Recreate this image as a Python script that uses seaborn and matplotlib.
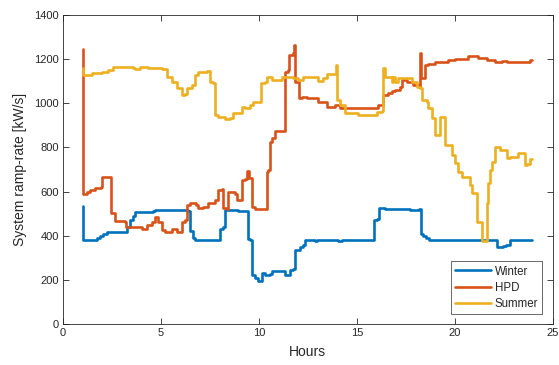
import numpy as np
import pandas as pd
import matplotlib
matplotlib.use("Agg")
import matplotlib.pyplot as plt
import seaborn as sns

# Winter ramp-rate profile (hours, kW/s)
winter_h = [1.00, 1.01, 1.63, 1.72, 1.89, 2.06, 2.23, 3.16, 3.25, 3.42, 3.59, 3.67,
            4.61, 4.69, 5.97, 6.39, 6.48, 6.65, 6.73, 7.92, 8.01, 8.18, 8.27, 8.78,
            8.95, 9.34, 9.42, 9.54, 9.63, 9.80, 9.93, 10.05, 10.14, 10.31, 10.56,
            10.65, 11.16, 11.33, 11.50, 11.58, 11.75, 11.84, 12.09, 12.26, 12.35,
            12.76, 12.86, 12.94, 13.96, 14.05, 14.22, 15.75, 15.88, 16.00, 16.12,
            16.43, 17.70, 18.18, 18.27, 18.38, 18.52, 18.69, 22.09, 22.16, 22.46,
            22.63, 22.81, 23.96]
winter_v = [535, 380, 380, 390, 400, 410, 418, 418, 440, 470, 490, 508,
            510, 518, 515, 512, 420, 390, 380, 380, 430, 440, 515, 515,
            510, 510, 385, 380, 220, 210, 193, 195, 230, 222, 225,
            240, 238, 222, 222, 245, 250, 335, 350, 360, 380,
            380, 375, 380, 380, 375, 380, 380, 470, 475, 525,
            520, 518, 520, 410, 400, 390, 380, 380, 350, 352,
            360, 380, 380]

# HPD ramp-rate profile
hpd_h = [1.00, 1.02, 1.21, 1.38, 1.63, 1.92, 2.01, 2.36, 2.45, 2.65, 3.16, 3.21,
         3.93, 4.01, 4.27, 4.52, 4.69, 4.86, 5.03, 5.20, 5.46, 5.55, 5.71, 5.80,
         5.97, 6.06, 6.22, 6.31, 6.48, 6.79, 6.90, 7.16, 7.42, 7.76, 7.92, 8.10,
         8.18, 8.35, 8.43, 8.52, 8.78, 8.86, 9.03, 9.12, 9.29, 9.40, 9.49, 9.63,
         9.80, 10.31, 10.39, 10.47, 10.56, 10.68, 10.82, 11.24, 11.33, 11.46,
         11.53, 11.75, 11.80, 11.85, 11.97, 12.04, 12.18, 12.35, 12.43, 12.94,
         13.03, 13.37, 13.45, 13.79, 13.88, 14.05, 14.13, 16.00, 16.09, 16.26,
         16.34, 16.60, 16.77, 16.94, 17.19, 17.28, 17.54, 17.87, 18.18, 18.21,
         18.27, 18.38, 18.47, 18.64, 18.98, 19.32, 19.66, 20.00, 20.60, 20.68,
         21.10, 21.19, 21.62, 22.04, 22.38, 22.64, 23.74, 23.83, 23.96]
hpd_v = [1245, 590, 597, 605, 615, 620, 665, 668, 505, 465, 460, 440,
         440, 432, 450, 460, 486, 460, 427, 417, 417, 430, 430, 417,
         417, 460, 470, 539, 547, 540, 525, 532, 547, 560, 607, 610,
         525, 520, 600, 597, 590, 562, 562, 652, 655, 695, 660, 531,
         521, 521, 690, 700, 826, 841, 874, 874, 1143, 1150,
         1219, 1226, 1262, 1098, 1098, 1022, 1030, 1030, 1022, 1022,
         1007, 1007, 985, 985, 992, 992, 977, 977, 992, 992,
         1038, 1045, 1055, 1060, 1075, 1105, 1097, 1082, 1075, 1226,
         1113, 1113, 1173, 1180, 1185, 1188, 1196, 1200, 1200, 1215,
         1215, 1205, 1196, 1188, 1192, 1188, 1188, 1194, 1194]

# Summer ramp-rate profile
summer_h = [1.00, 1.02, 1.38, 1.46, 1.89, 1.97, 2.23, 2.31, 2.57, 3.59, 3.67,
            3.93, 4.35, 5.03, 5.26, 5.32, 5.55, 5.80, 6.09, 6.22, 6.31, 6.56,
            6.73, 6.90, 7.33, 7.45, 7.50, 7.67, 7.76, 7.92, 8.27, 8.52, 8.69,
            9.03, 9.12, 9.29, 9.54, 9.71, 10.05, 10.10, 10.31, 10.39, 10.65,
            11.16, 11.75, 12.01, 12.26, 12.94, 13.03, 13.28, 13.45, 13.88,
            13.93, 13.99, 14.13, 14.39, 15.07, 16.00, 16.26, 16.31, 16.43,
            16.77, 16.85, 16.94, 17.11, 17.70, 17.79, 18.05, 18.21, 18.30,
            18.56, 18.64, 18.81, 18.98, 19.15, 19.23, 19.37, 19.49, 19.74,
            19.83, 20.00, 20.17, 20.34, 20.68, 20.77, 20.85, 21.02, 21.11,
            21.28, 21.36, 21.53, 21.62, 21.70, 21.79, 21.87, 22.04, 22.21,
            22.30, 22.55, 22.64, 22.81, 23.15, 23.23, 23.49, 23.57, 23.66,
            23.83, 23.96]
summer_v = [1158, 1128, 1128, 1136, 1136, 1143, 1143, 1153, 1163, 1160, 1155,
            1163, 1158, 1155, 1155, 1121, 1098, 1068, 1038, 1040, 1068, 1083,
            1130, 1143, 1148, 1148, 1098, 1090, 947, 940, 929, 932, 955,
            955, 985, 977, 992, 1007, 1007, 1090, 1098, 1117, 1107,
            1121, 1113, 1107, 1117, 1117, 1102, 1113, 1131, 1131,
            1173, 1015, 992, 955, 947, 962, 967, 1158, 1117,
            1098, 1117, 1098, 1113, 1113, 1098, 1075, 1068, 1015,
            1007, 977, 932, 856, 856, 940, 940, 811, 811,
            766, 728, 689, 667, 667, 630, 592, 592, 464,
            464, 377, 377, 547, 637, 698, 735, 803, 800,
            788, 788, 750, 758, 758, 773, 773, 720, 727,
            747, 747]

series_names = ["Winter", "HPD", "Summer"]
colors = ["#0072BD", "#D95319", "#EDB120"]

frames = []
for name, h, v in zip(series_names, [winter_h, hpd_h, summer_h],
                      [winter_v, hpd_v, summer_v]):
    frames.append(pd.DataFrame({"Hours": h, "rate": v, "series": name}))
df = pd.concat(frames, ignore_index=True)

sns.set_style("white")
plt.rcParams["font.family"] = ["Liberation Sans", "DejaVu Sans"]

fig = plt.figure(figsize=(5.59, 3.65), dpi=100)
ax = fig.add_axes([0.1127, 0.1123, 0.8763, 0.8466])

# Stepped profiles: each value holds until the next breakpoint
sns.lineplot(data=df, x="Hours", y="rate", hue="series",
             hue_order=series_names, palette=dict(zip(series_names, colors)),
             sort=False, estimator=None, linewidth=1.9, drawstyle="steps-post",
             ax=ax)

ax.set_xlim(0, 25)
ax.set_ylim(0, 1400)
ax.set_xticks(np.arange(0, 26, 5))
ax.set_yticks(np.arange(0, 1401, 200))
ax.set_xlabel("Hours", fontsize=10, color="#262626", labelpad=5)
ax.set_ylabel("System ramp-rate [kW/s]", fontsize=10, color="#262626", labelpad=5)

edge = "#262626"
for sp in ax.spines.values():
    sp.set_visible(True)
    sp.set_color(edge)
    sp.set_linewidth(0.6)
ax.tick_params(direction="in", length=4, width=0.6, color=edge,
               labelsize=8, labelcolor=edge, top=True, right=True,
               bottom=True, left=True, pad=3)

leg = ax.legend(loc="lower right", fontsize=8.3, frameon=True, fancybox=False,
                edgecolor=edge, borderaxespad=0.9, handlelength=3.1,
                handletextpad=0.35, labelspacing=0.35, borderpad=0.35)
leg.get_frame().set_linewidth(0.6)
for line in leg.get_lines():
    line.set_linewidth(1.9)

fig.savefig("out.png", dpi=100)
